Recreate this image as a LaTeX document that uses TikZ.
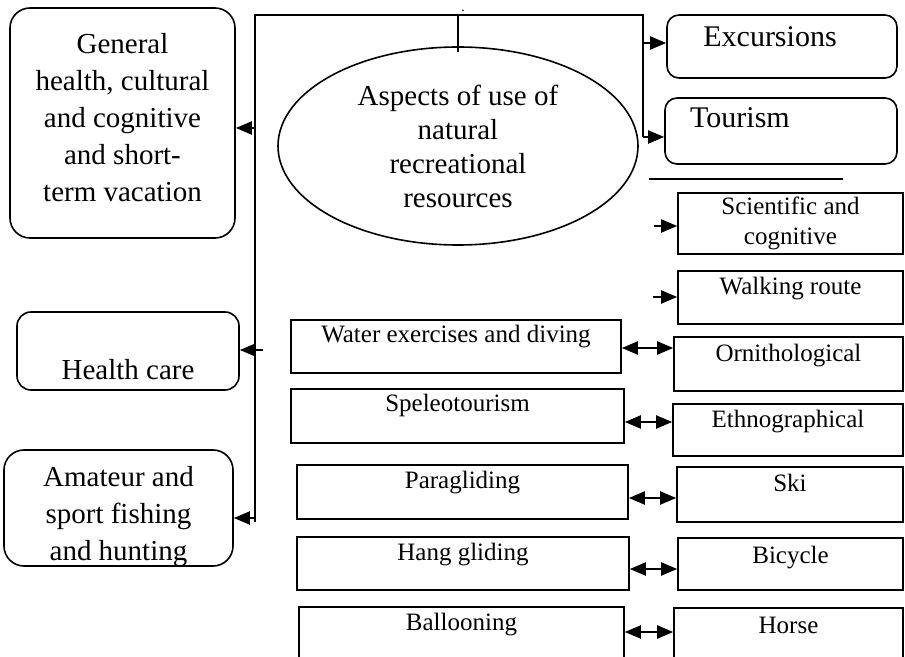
\documentclass[tikz,border=0pt]{standalone}
\usepackage{fontspec}
\setmainfont{Liberation Serif}
\usetikzlibrary{shapes.geometric,arrows.meta}
\begin{document}
\begin{tikzpicture}[x=0.5pt,y=-0.5pt,
  big/.style={font=\fontsize{14.5}{18.5}\selectfont},
  small/.style={font=\fontsize{12.5}{15}\selectfont},
  rbox/.style={draw,rounded corners=10pt,inner sep=0pt,line width=0.8pt,big},
  sbox/.style={draw,inner sep=0pt,line width=0.8pt,small},
  oneline/.style={text height=7pt,text depth=#1},
  arr/.style={line width=1pt,-{Triangle[length=8pt,width=6.5pt]}},
  darr/.style={line width=1pt,{Triangle[length=8pt,width=6.5pt]}-{Triangle[length=8pt,width=6.5pt]}}]
\clip (0,0) rectangle (905,657);
% left column
\node[rbox,align=center,minimum width=112.5pt,minimum height=115pt,text height=92pt,text depth=13pt] (l1) at (122.5,123) {General\\health, cultural\\and cognitive\\and short-\\term vacation};
\node[rbox,rounded corners=7pt,minimum width=111pt,minimum height=39pt,text height=33pt,text depth=4pt] (l2) at (128,351) {Health care};
\node[rbox,align=center,minimum width=114.5pt,minimum height=58pt,text height=54pt,text depth=2pt] (l3) at (118.5,508) {Amateur and\\sport fishing\\and hunting};
% centre
\node[draw,ellipse,line width=0.8pt,font=\fontsize{14.5}{17}\selectfont,align=center,inner sep=0pt,minimum width=180pt,minimum height=99pt] (c0) at (458,146) {Aspects of use of\\natural\\recreational\\resources};
\node[inner sep=0pt,font=\fontsize{7}{8}\selectfont] (d0) at (463,11) {.};
% right column
\node[rbox,rounded corners=6pt,font=\fontsize{15}{18}\selectfont,minimum width=115pt,minimum height=31.5pt,text height=10pt,text depth=10pt] (r1) at (782,46.5) {Excursions\kern12pt};
\node[rbox,rounded corners=6pt,font=\fontsize{15}{18}\selectfont,minimum width=116pt,minimum height=33pt,text height=10pt,text depth=13pt] (r2) at (781,131) {Tourism\kern41pt};
\node[sbox,align=center,minimum width=112.5pt,minimum height=30.5pt] (r3) at (790.5,223.5) {Scientific and\\cognitive};
\node[sbox,oneline=9.5pt,minimum width=112.5pt,minimum height=26.5pt] (r4) at (790.5,297.5) {Walking route};
\node[sbox,oneline=9pt,minimum width=114.5pt,minimum height=27pt] (r5) at (788.5,364) {Ornithological};
\node[sbox,oneline=9pt,minimum width=115pt,minimum height=26pt] (r6) at (788,430) {Ethnographical};
\node[sbox,oneline=9.5pt,minimum width=113pt,minimum height=27.5pt] (r7) at (790,494.5) {Ski};
\node[sbox,oneline=8pt,minimum width=112.5pt,minimum height=26pt] (r8) at (790.5,564) {Bicycle};
\node[sbox,oneline=18pt,minimum width=114.5pt,minimum height=36pt] (r9) at (788.5,644) {Horse};
% middle column
\node[sbox,oneline=10.5pt,minimum width=165pt,minimum height=26.5pt] (m1) at (456,346.5) {Water exercises and diving};
\node[sbox,oneline=11pt,minimum width=166.5pt,minimum height=27pt] (m2) at (457.5,416) {Speleotourism};
\node[sbox,oneline=11pt,minimum width=165.5pt,minimum height=27pt] (m3) at (462.5,492) {Paragliding};
\node[sbox,oneline=10.5pt,minimum width=166pt,minimum height=26.5pt] (m4) at (463,563.5) {Hang gliding};
\node[sbox,oneline=20.5pt,minimum width=162.5pt,minimum height=36.5pt] (m5) at (461.5,643.5) {Ballooning};
% frame lines
\coordinate (t0) at (255,15);
\coordinate (t1) at (643,15);
\coordinate (t2) at (643,137);
\coordinate (t3) at (643,43);
\coordinate (b0) at (255,522);
\draw[line width=1pt] (b0) -- (t0) -- (t1) -- (t2);
\draw[line width=1pt] (t0 -| c0.north) -- ([yshift=-3pt]c0.north);
\draw[arr] (t3) -- (r1.west |- t3);
\draw[arr] (t2) -- (r2.west |- t2);
\draw[line width=0.8pt] (649,179) -- (843,179);
% left arrows
\coordinate (k1) at (255,128);
\coordinate (k2) at (263,350);
\coordinate (k3) at (255,518);
\draw[arr] (k1) -- (l1.east |- k1);
\draw[arr] (k2) -- (l2.east |- k2);
\draw[arr] (k3) -- (l3.east |- k3);
% short arrows
\coordinate (s1) at (654,226);
\coordinate (s2) at (653,297);
\draw[arr] (s1) -- (r3.west |- s1);
\draw[arr] (s2) -- (r4.west |- s2);
% double arrows
\draw[darr] (m1.east |- 0,348) -- (r5.west |- 0,348);
\draw[darr] (m2.east |- 0,422) -- (r6.west |- 0,422);
\draw[darr] (m3.east |- 0,498) -- (r7.west |- 0,498);
\draw[darr] (m4.east |- 0,569) -- (r8.west |- 0,569);
\draw[darr] (m5.east |- 0,632) -- (r9.west |- 0,632);
\end{tikzpicture}
\end{document}
